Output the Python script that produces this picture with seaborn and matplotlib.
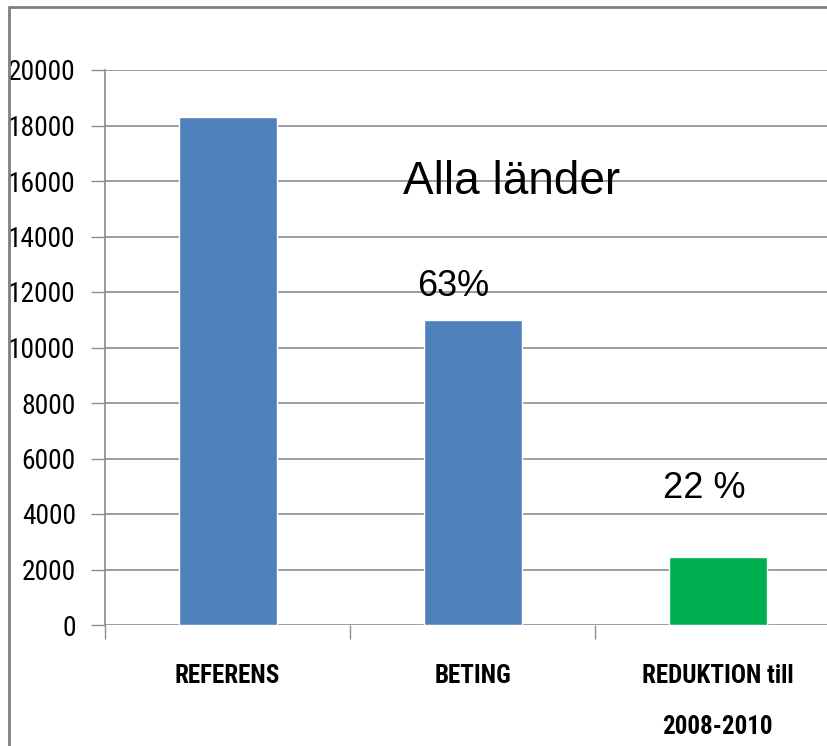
import matplotlib
matplotlib.use("Agg")
import matplotlib.pyplot as plt
from matplotlib import font_manager
from matplotlib.lines import Line2D
from matplotlib.ticker import FixedLocator
import seaborn as sns

categories = ["REFERENS", "BETING", "REDUKTION till\n2008-2010"]
values = [18300, 11000, 2450]
bar_colors = ["#4F81BD", "#4F81BD", "#00B050"]
y_ticks = [0, 2000, 4000, 6000, 8000, 10000, 12000, 14000, 16000, 18000, 20000]
title_text = "Alla länder"
pct_labels = ["63%", "22 %"]

names = {f.name for f in font_manager.fontManager.ttflist}
narrow = "DejaVu Sans"
for cand in ["Liberation Sans Narrow", "Roboto Condensed", "Open Sans Condensed",
             "Noto Sans Condensed", "DejaVu Sans Condensed", "Roboto", "Lato"]:
    if cand in names:
        narrow = cand
        break
sans = "Liberation Sans" if "Liberation Sans" in names else "DejaVu Sans"

sns.set_style("white")
plt.rcParams["font.family"] = [sans, "DejaVu Sans"]

fig = plt.figure(figsize=(8.27, 7.46), dpi=100)
renderer = fig.canvas.get_renderer()


def fit_size(s, target_px, weight="normal"):
    t = fig.text(0, 0, s, fontsize=20, family=[narrow, "DejaVu Sans"], fontweight=weight)
    w = t.get_window_extent(renderer).width
    t.remove()
    return 20 * target_px / w


ytick_size = fit_size("18000", 68)
xtick_size = fit_size("REFERENS", 106, "bold")

ax = fig.add_axes([105 / 827, 121 / 746, 735 / 827, 555 / 746])

sns.barplot(x=categories, y=values, hue=categories, palette=bar_colors,
            width=0.4, legend=False, ax=ax, saturation=1)

ax.set_xlim(-0.5, 2.5)
ax.set_ylim(0, 20000)
ax.set_yticks(y_ticks)
ax.set_yticklabels([str(v) for v in y_ticks], family=[narrow, "DejaVu Sans"], fontsize=ytick_size)
ax.yaxis.grid(True, color="#8c8c8c", linewidth=1.2)
ax.set_axisbelow(True)
ax.tick_params(axis="y", length=10, width=1, color="#8c8c8c", pad=11, direction="out",
               left=True, labelcolor="black")

ax.set_xticks([0, 1, 2])
ax.set_xticklabels(categories, family=[narrow, "DejaVu Sans"], fontsize=xtick_size,
                   fontweight="bold", linespacing=2.45, va="top")
ax.tick_params(axis="x", which="major", length=0, pad=28, labelcolor="black")
ax.xaxis.set_minor_locator(FixedLocator([-0.5, 0.5, 1.5, 2.5]))
ax.tick_params(axis="x", which="minor", length=10, width=1, color="#8c8c8c", direction="out", bottom=True)
ax.set_xlabel("")
ax.set_ylabel("")

for side in ["top", "right", "bottom"]:
    ax.spines[side].set_visible(False)
ax.spines["left"].set_color("#8c8c8c")
ax.spines["left"].set_linewidth(1.2)

ax.text(0.716, 15532, title_text, fontsize=33, ha="left", va="baseline", color="black")
ax.text(0.773, 11856, pct_labels[0], fontsize=26, ha="left", va="baseline", color="black")
ax.text(1.778, 4577, pct_labels[1], fontsize=26, ha="left", va="baseline", color="black")

# outer frame lines (top and left)
fig.add_artist(Line2D([9 / 827, 1.0], [1 - 7 / 746, 1 - 7 / 746], transform=fig.transFigure,
                      color="#7f7f7f", linewidth=2))
fig.add_artist(Line2D([9 / 827, 9 / 827], [0, 1 - 7 / 746], transform=fig.transFigure,
                      color="#7f7f7f", linewidth=2))

fig.savefig("out.png", dpi=100)
